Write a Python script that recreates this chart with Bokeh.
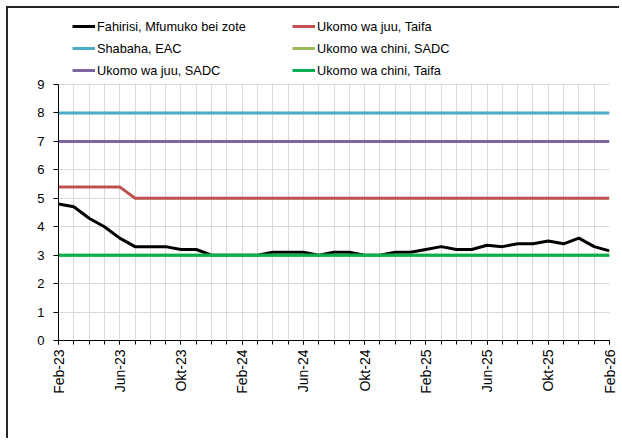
from bokeh.plotting import figure
from bokeh.models import FixedTicker, Legend, LegendItem, Range1d, BoxAnnotation
from bokeh.embed import file_html
from bokeh.resources import INLINE
import math

months = ["Feb-23", "Mac-23", "Apr-23", "Mei-23", "Jun-23", "Jul-23", "Ago-23", "Sep-23",
          "Okt-23", "Nov-23", "Des-23", "Jan-24", "Feb-24", "Mac-24", "Apr-24", "Mei-24",
          "Jun-24", "Jul-24", "Ago-24", "Sep-24", "Okt-24", "Nov-24", "Des-24", "Jan-25",
          "Feb-25", "Mac-25", "Apr-25", "Mei-25", "Jun-25", "Jul-25", "Ago-25", "Sep-25",
          "Okt-25", "Nov-25", "Des-25", "Jan-26", "Feb-26"]

inflation = [4.8, 4.7, 4.3, 4.0, 3.6, 3.3, 3.3, 3.3, 3.2, 3.2, 3.0, 3.0, 3.0, 3.0, 3.1, 3.1,
             3.1, 3.0, 3.1, 3.1, 3.0, 3.0, 3.1, 3.1, 3.2, 3.3, 3.2, 3.2, 3.35, 3.3, 3.4, 3.4,
             3.5, 3.4, 3.6, 3.3, 3.15]

upper_national = [5.4, 5.4, 5.4, 5.4, 5.4, 5.0, 5.0, 5.0, 5.0, 5.0, 5.0, 5.0, 5.0, 5.0, 5.0, 5.0,
                  5.0, 5.0, 5.0, 5.0, 5.0, 5.0, 5.0, 5.0, 5.0, 5.0, 5.0, 5.0, 5.0, 5.0, 5.0, 5.0,
                  5.0, 5.0, 5.0, 5.0, 5.0]
eac_target = [8, 8, 8, 8, 8, 8, 8, 8, 8, 8, 8, 8, 8, 8, 8, 8, 8, 8, 8, 8, 8, 8, 8, 8, 8, 8, 8,
              8, 8, 8, 8, 8, 8, 8, 8, 8, 8]
upper_sadc = [7, 7, 7, 7, 7, 7, 7, 7, 7, 7, 7, 7, 7, 7, 7, 7, 7, 7, 7, 7, 7, 7, 7, 7, 7, 7, 7,
              7, 7, 7, 7, 7, 7, 7, 7, 7, 7]
lower_sadc = [3, 3, 3, 3, 3, 3, 3, 3, 3, 3, 3, 3, 3, 3, 3, 3, 3, 3, 3, 3, 3, 3, 3, 3, 3, 3, 3,
              3, 3, 3, 3, 3, 3, 3, 3, 3, 3]
lower_national = [3, 3, 3, 3, 3, 3, 3, 3, 3, 3, 3, 3, 3, 3, 3, 3, 3, 3, 3, 3, 3, 3, 3, 3, 3, 3,
                  3, 3, 3, 3, 3, 3, 3, 3, 3, 3, 3]

y_ticks = [0, 1, 2, 3, 4, 5, 6, 7, 8, 9]
y_min, y_max = 0, 9
label_every = 4

x = list(range(len(months)))
FONT = "Liberation Sans"

# frame spans the legend area too; 256 px of frame = 9 units
PLOT_H = 256.0
LEGEND_H = 76.0
y_top = y_max + LEGEND_H * (y_max - y_min) / PLOT_H

p = figure(width=613, height=432, output_backend="svg", toolbar_location=None,
           x_range=Range1d(0, len(months) - 1), y_range=Range1d(y_min, y_top),
           min_border_left=50, min_border_right=12, min_border_top=0, min_border_bottom=100)
p.styles = {"margin-left": "6px", "margin-top": "6px",
            "border-left": "2px solid #262626", "border-top": "2px solid #262626"}
p.outline_line_color = None
p.background_fill_color = "white"
p.border_fill_color = "white"

p.xgrid.grid_line_color = "#D9D9D9"
p.xgrid.minor_grid_line_color = "#D9D9D9"
p.ygrid.grid_line_color = "#D9D9D9"

# blank band above the plotting area for the legend
p.add_layout(BoxAnnotation(bottom=y_max + 0.025, fill_color="white", fill_alpha=1,
                           line_color=None, level="underlay"))

LW = 3
r_inf = p.line(x, inflation, line_color="black", line_width=LW)
r_upn = p.line(x, upper_national, line_color="#C0504D", line_width=LW)
r_eac = p.line(x, eac_target, line_color="#4BACC6", line_width=LW)
r_los = p.line(x, lower_sadc, line_color="#9BBB59", line_width=LW)
r_ups = p.line(x, upper_sadc, line_color="#8064A2", line_width=LW)
r_lon = p.line(x, lower_national, line_color="#00B050", line_width=LW)

# axes
major = [i for i in x if i % label_every == 0]
p.xaxis.ticker = FixedTicker(ticks=major, minor_ticks=x)
p.xaxis.major_label_overrides = {i: months[i] for i in major}
p.xaxis.major_label_orientation = math.pi / 2
p.xaxis.major_tick_out = 4
p.xaxis.major_tick_in = 0
p.xaxis.minor_tick_out = 4
p.xaxis.minor_tick_in = 0
p.yaxis.ticker = FixedTicker(ticks=y_ticks)
p.yaxis.bounds = (y_min, y_max)
p.yaxis.major_tick_out = 5
p.yaxis.major_tick_in = 0
p.yaxis.minor_tick_line_color = None
p.yaxis.major_label_standoff = 9
p.xaxis.major_label_standoff = 5
for ax in (p.xaxis, p.yaxis):
    ax.axis_line_color = "black"
    ax.major_tick_line_color = "black"
    ax.major_label_text_font = FONT
    ax.major_label_text_color = "black"
p.xaxis.minor_tick_line_color = "black"
p.xaxis.major_label_text_font_size = "14px"
p.yaxis.major_label_text_font_size = "13px"

legend = Legend(items=[
    LegendItem(label="Fahirisi, Mfumuko bei zote", renderers=[r_inf]),
    LegendItem(label="Shabaha, EAC", renderers=[r_eac]),
    LegendItem(label="Ukomo wa juu, SADC", renderers=[r_ups]),
    LegendItem(label="Ukomo wa juu, Taifa", renderers=[r_upn]),
    LegendItem(label="Ukomo wa chini, SADC", renderers=[r_los]),
    LegendItem(label="Ukomo wa chini, Taifa", renderers=[r_lon]),
], orientation="vertical", nrows=3, location=(14, 259),
    glyph_width=23, glyph_height=22, label_height=22, label_width=195,
    label_standoff=2, spacing=0, padding=4, margin=0,
    label_text_font=FONT, label_text_font_size="12.75px", label_text_color="black",
    border_line_color=None, background_fill_alpha=0)
p.add_layout(legend)

open("out.html", "w").write(file_html(p, INLINE))
